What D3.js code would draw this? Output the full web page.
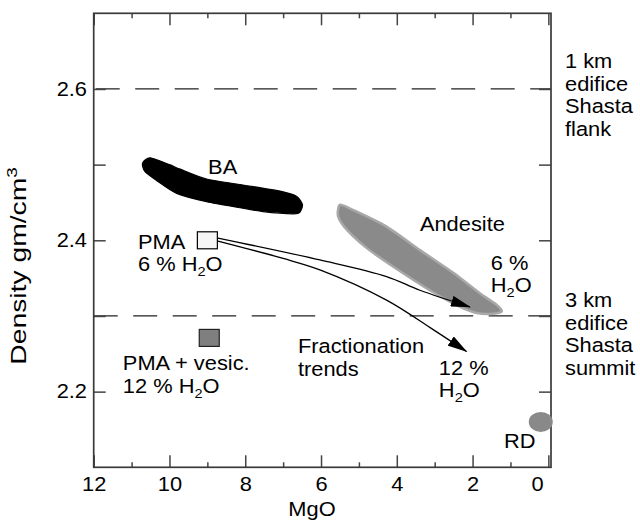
<!DOCTYPE html>
<html>
<head>
<meta charset="utf-8">
<script src="https://cdn.jsdelivr.net/npm/d3@7"></script>
<style>
  html, body { margin: 0; padding: 0; background: #fff; }
  svg { display: block; font-family: "Liberation Sans", Arial, Helvetica, sans-serif; }
</style>
</head>
<body>
<svg id="chart" width="640" height="521"></svg>
<script>
// MgO (wt%) vs density
var majorX = [12, 10, 8, 6, 4, 2, 0];
var minorX = [11, 9, 7, 5, 3, 1];
var majorY = [2.2, 2.4, 2.6];
var minorY = [2.3, 2.5];
var depthLines = [2.6, 2.3];
var depthLabels1 = ["1 km", "edifice", "Shasta", "flank"];
var depthLabels2 = ["3 km", "edifice", "Shasta", "summit"];

// outlines of the two fields [MgO, density]
var baField = [[10.71, 2.502], [10.51, 2.509], [10.0, 2.500], [9.72, 2.494], [9.02, 2.481], [7.79, 2.471],
  [7.08, 2.465], [6.64, 2.458], [6.49, 2.447], [6.56, 2.437], [6.73, 2.435], [7.53, 2.438], [8.14, 2.443],
  [9.02, 2.451], [9.81, 2.462], [10.34, 2.479], [10.65, 2.491]];
var andesiteField = [[5.50, 2.447], [5.15, 2.440], [4.27, 2.418], [3.39, 2.387], [2.51, 2.357], [1.81, 2.330],
  [1.37, 2.315], [1.23, 2.306], [1.46, 2.303], [1.89, 2.304], [2.33, 2.312], [3.13, 2.334], [4.09, 2.365],
  [4.80, 2.390], [5.32, 2.414], [5.55, 2.432]];

// fractionation trends from PMA
var trend6 = [[8.72, 2.403], [6.03, 2.374], [4.27, 2.352], [3.39, 2.334], [2.07, 2.312]];
var trend12 = [[8.72, 2.399], [7.00, 2.376], [6.03, 2.361], [4.27, 2.321], [3.04, 2.282], [2.16, 2.253]];

var pma = [9.0, 2.40];
var pmaVesic = [8.95, 2.271];
var rd = [0.2, 2.16];

var SX = 1.12; // the figure is stretched sideways a little
var FS = 19.5;

var svg = d3.select("#chart");
var x = d3.scaleLinear().domain([12, -0.07]).range([93.7, 551]);
var y = d3.scaleLinear().domain([2.1, 2.7]).range([467.3, 13.3]);

// adds a (possibly multi-part) label; parts can be subscript / superscript
function addText(px, py, parts, anchor, extra, sx) {
    var t = svg.append("text")
        .attr("transform", "translate(" + px + "," + py + ") scale(" + (sx || SX) + ",1)" + (extra || ""))
        .attr("text-anchor", anchor || "start")
        .attr("font-size", FS)
        .attr("fill", "#000");
    if (typeof parts === "string") parts = [{ t: parts }];
    var shift = 0;
    parts.forEach(function (p) {
        var s = t.append("tspan").text(p.t);
        var target = p.sub ? 5 : (p.sup ? -8 : 0);
        s.attr("dy", target - shift).attr("font-size", (p.sub || p.sup) ? 13 : FS);
        shift = target;
    });
    return t;
}

function addLines(px, py, lines, step) {
    lines.forEach(function (l, i) { addText(px, py + i * step, l); });
}

// dashed depth reference lines
svg.selectAll(".depth")
    .data(depthLines)
    .enter().append("line")
    .attr("class", "depth")
    .attr("x1", x(12)).attr("x2", x(-0.07))
    .attr("y1", function (d) { return y(d); })
    .attr("y2", function (d) { return y(d); })
    .attr("stroke", "#222")
    .attr("stroke-width", 1.3)
    .attr("stroke-dasharray", "24,15.5")
    .attr("stroke-dashoffset", function (d, i) { return i === 0 ? -2 : 0; });

var blob = d3.line()
    .x(function (d) { return x(d[0]); })
    .y(function (d) { return y(d[1]); })
    .curve(d3.curveCardinalClosed.tension(0.3));

svg.append("path")
    .attr("d", blob(andesiteField))
    .attr("fill", "#8a8a8a")
    .attr("stroke", "#a8a8a8")
    .attr("stroke-width", 2.5);

svg.append("path")
    .attr("d", blob(baField))
    .attr("fill", "#000")
    .attr("stroke", "#000")
    .attr("stroke-width", 1.2);

// arrows
var defs = svg.append("defs");
defs.append("marker")
    .attr("id", "head")
    .attr("markerUnits", "userSpaceOnUse")
    .attr("viewBox", "0 0 20 11")
    .attr("refX", 19).attr("refY", 5.5)
    .attr("markerWidth", 20).attr("markerHeight", 11)
    .attr("orient", "auto")
    .append("path")
    .attr("d", "M0,0 L20,5.5 L0,11 Z")
    .attr("fill", "#000");

var trendLine = d3.line()
    .x(function (d) { return x(d[0]); })
    .y(function (d) { return y(d[1]); })
    .curve(d3.curveCatmullRom);

[trend6, trend12].forEach(function (tr) {
    svg.append("path")
        .attr("d", trendLine(tr))
        .attr("fill", "none")
        .attr("stroke", "#000")
        .attr("stroke-width", 1.3)
        .attr("marker-end", "url(#head)");
});

// squares
svg.append("rect")
    .attr("x", x(pma[0]) - 10).attr("y", y(pma[1]) - 8.5)
    .attr("width", 20).attr("height", 17)
    .attr("fill", "#f6f6f6").attr("stroke", "#000").attr("stroke-width", 1.2);

svg.append("rect")
    .attr("x", x(pmaVesic[0]) - 10).attr("y", y(pmaVesic[1]) - 8.5)
    .attr("width", 20).attr("height", 17)
    .attr("fill", "#7f7f7f").attr("stroke", "#222").attr("stroke-width", 1.2);

// axes
function styleAxis(g) {
    g.select(".domain").remove();
    g.selectAll(".tick line").attr("stroke", "#444").attr("stroke-width", 1.5);
    g.selectAll("text").attr("font-size", FS).attr("fill", "#000")
        .attr("font-family", "'Liberation Sans', Arial, Helvetica, sans-serif");
}

var bottom = svg.append("g").attr("transform", "translate(0," + y(2.1) + ")")
    .call(d3.axisBottom(x).tickValues(majorX).tickSize(-12).tickPadding(10).tickFormat(d3.format("d")))
    .call(styleAxis);
bottom.selectAll("text").attr("transform", "scale(" + SX + ",1)")
    .attr("x", function (d) { return d === 0 ? -10 : 0; });
svg.append("g").attr("transform", "translate(0," + y(2.1) + ")")
    .call(d3.axisBottom(x).tickValues(minorX).tickSize(-5).tickFormat(""))
    .call(styleAxis);

svg.append("g").attr("transform", "translate(0," + y(2.7) + ")")
    .call(d3.axisTop(x).tickValues(majorX).tickSize(-12).tickFormat(""))
    .call(styleAxis);
svg.append("g").attr("transform", "translate(0," + y(2.7) + ")")
    .call(d3.axisTop(x).tickValues(minorX).tickSize(-5).tickFormat(""))
    .call(styleAxis);

var left = svg.append("g").attr("transform", "translate(" + x(12) + ",0)")
    .call(d3.axisLeft(y).tickValues(majorY.concat(minorY)).tickSize(-12).tickPadding(6)
        .tickFormat(function (d) { return majorY.indexOf(d) >= 0 ? d3.format(".1f")(d) : ""; }))
    .call(styleAxis);
left.selectAll("text").attr("transform", "scale(" + SX + ",1)");

svg.append("g").attr("transform", "translate(" + x(-0.07) + ",0)")
    .call(d3.axisRight(y).tickValues(majorY.concat(minorY)).tickSize(-12).tickFormat(""))
    .call(styleAxis);

// frame
svg.append("rect")
    .attr("x", x(12)).attr("y", y(2.7))
    .attr("width", x(-0.07) - x(12)).attr("height", y(2.1) - y(2.7))
    .attr("fill", "none").attr("stroke", "#3a3a3a").attr("stroke-width", 1.7);

// RD sits on top of the frame
svg.append("ellipse")
    .attr("cx", x(rd[0])).attr("cy", y(rd[1]))
    .attr("rx", 12).attr("ry", 10)
    .attr("fill", "#898989");

// axis titles
addText(312, 516, "MgO", "middle");
// the rotated title is drawn longer in the source
addText(26, 266, [{ t: "Density gm/cm" }, { t: "3", sup: true }], "middle", " rotate(-90) scale(1.45,1)", 1.1);

// annotations
addText(x(8.98), y(2.488), "BA");
addText(x(10.83), y(2.389), "PMA");
addText(x(10.83), y(2.360), [{ t: "6 % H" }, { t: "2", sub: true }, { t: "O" }]);
addText(x(3.39), y(2.412), "Andesite");
addText(x(1.52), y(2.361), "6 %");
addText(x(1.52), y(2.332), [{ t: "H" }, { t: "2", sub: true }, { t: "O" }]);
addText(x(11.23), y(2.229), "PMA + vesic.");
addText(x(11.23), y(2.198), [{ t: "12 % H" }, { t: "2", sub: true }, { t: "O" }]);
addText(x(6.61), y(2.251), "Fractionation");
addText(x(6.61), y(2.221), "trends");
addText(x(2.89), y(2.222), "12 %");
addText(x(2.89), y(2.193), [{ t: "H" }, { t: "2", sub: true }, { t: "O" }]);
addText(x(1.17), y(2.125), "RD");

// depth labels right of the frame
addLines(565, 68, depthLabels1, 22.5);
addLines(565, 307, depthLabels2, 22.5);
</script>
</body>
</html>
